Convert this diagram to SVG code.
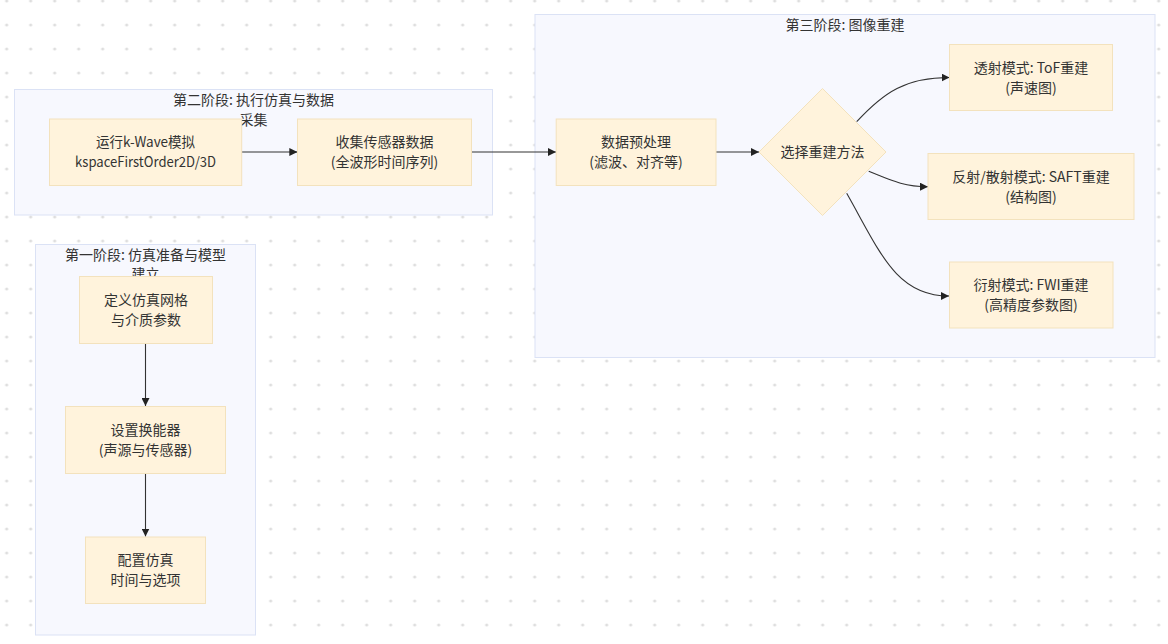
<svg xmlns="http://www.w3.org/2000/svg" width="1168" height="644" viewBox="0 0 1168 644">
<defs>
<pattern id="dots" x="6.7" y="1" width="24" height="24" patternUnits="userSpaceOnUse">
<circle cx="0" cy="0" r="1.6" fill="#dedede"/>
<circle cx="24" cy="0" r="1.6" fill="#dedede"/>
<circle cx="0" cy="24" r="1.6" fill="#dedede"/>
<circle cx="24" cy="24" r="1.6" fill="#dedede"/>
</pattern>
<marker id="arrow" viewBox="0 0 10 10" refX="10" refY="5" markerWidth="8" markerHeight="8" markerUnits="userSpaceOnUse" orient="auto">
<path d="M0,0 L10,5 L0,10 z" fill="#222"/>
</marker>
<style>
.cluster{fill:#f7f8fe;stroke:#dbe2f5;stroke-width:1}
.node{fill:#fff3dc;stroke:#f3e2bd;stroke-width:1}
text{font-family:"Noto Sans CJK SC","Liberation Sans",sans-serif;font-size:14px;fill:#333;text-anchor:middle}
.edge{fill:none;stroke:#333;stroke-width:1.1;marker-end:url(#arrow)}
</style>
</defs>
<rect width="1168" height="644" fill="#ffffff"/>
<rect width="1168" height="644" fill="url(#dots)"/>

<g id="phase1">
<rect class="cluster" x="35.5" y="244.5" width="220" height="390.5"/>
<text x="145.5" y="260">第一阶段: 仿真准备与模型</text>
<text x="145.5" y="279">建立</text>
</g>
<g id="phase2">
<rect class="cluster" x="14.5" y="89.5" width="478" height="125.5"/>
<text x="253.5" y="104.5">第二阶段: 执行仿真与数据</text>
<text x="253.5" y="124.5">采集</text>
</g>
<g id="phase3">
<rect class="cluster" x="535" y="14.5" width="620" height="343"/>
<text x="845" y="30">第三阶段: 图像重建</text>
</g>

<g id="connectors">
<path class="edge" d="M145.5,343.5 L145.5,406"/>
<path class="edge" d="M145.5,473.5 L145.5,536.5"/>
<path class="edge" d="M241.7,152 L297.3,152"/>
<path class="edge" d="M471.7,152 L556,152"/>
<path class="edge" d="M716,152 L759,152"/>
<path class="edge" d="M856.7,121.7 C884,92 906,77.5 949.5,77.5"/>
<path class="edge" d="M868.7,171.3 C895,182 906,186.7 928,186.7"/>
<path class="edge" d="M846.7,193.3 C880,252 896,296 949,296"/>
</g>

<g id="define-grid">
<rect class="node" x="79.5" y="276.5" width="133" height="67"/>
<text x="146" y="305">定义仿真网格</text>
<text x="146" y="325">与介质参数</text>
</g>
<g id="set-transducer">
<rect class="node" x="65.5" y="406.5" width="160" height="67"/>
<text x="145.5" y="435">设置换能器</text>
<text x="145.5" y="455">(声源与传感器)</text>
</g>
<g id="config-sim">
<rect class="node" x="85.5" y="537" width="120" height="66.5"/>
<text x="145.5" y="565">配置仿真</text>
<text x="145.5" y="585">时间与选项</text>
</g>
<g id="run-kwave">
<rect class="node" x="49.5" y="119" width="192.2" height="66.5"/>
<text x="145.6" y="147" textLength="99" lengthAdjust="spacingAndGlyphs">运行k-Wave模拟</text>
<text x="145.6" y="167" textLength="141" lengthAdjust="spacingAndGlyphs">kspaceFirstOrder2D/3D</text>
</g>
<g id="collect-data">
<rect class="node" x="297.5" y="119" width="174" height="66.5"/>
<text x="384.5" y="147">收集传感器数据</text>
<text x="384.5" y="167">(全波形时间序列)</text>
</g>
<g id="preprocess">
<rect class="node" x="556.2" y="119" width="159.8" height="66.5"/>
<text x="636" y="147">数据预处理</text>
<text x="636" y="167">(滤波、对齐等)</text>
</g>
<g id="choose-method">
<polygon class="node" points="822.5,88.5 886,152 822.5,215.5 759,152"/>
<text x="822.5" y="157">选择重建方法</text>
</g>
<g id="tof">
<rect class="node" x="949.5" y="44.5" width="163" height="66"/>
<text x="1031" y="72.5">透射模式: ToF重建</text>
<text x="1031" y="92.5">(声速图)</text>
</g>
<g id="saft">
<rect class="node" x="928" y="153.5" width="206" height="66"/>
<text x="1031" y="181.5">反射/散射模式: SAFT重建</text>
<text x="1031" y="201.5">(结构图)</text>
</g>
<g id="fwi">
<rect class="node" x="949.5" y="262" width="163.5" height="66"/>
<text x="1031" y="290">衍射模式: FWI重建</text>
<text x="1031" y="310">(高精度参数图)</text>
</g>
</svg>
